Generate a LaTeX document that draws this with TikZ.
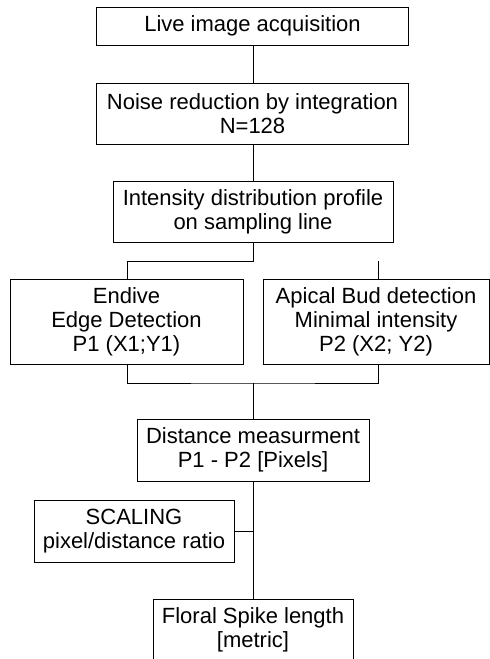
\documentclass[tikz,border=0pt]{standalone}
\usepackage{fontspec}
\setmainfont{Liberation Sans}
\usepackage{tikz}
\usetikzlibrary{positioning}

\begin{document}
\begin{tikzpicture}[
  x=1pt, y=-1pt,
  stage/.style={rectangle, draw, line width=1pt, align=center,
                inner sep=2pt, font=\fontsize{22}{24}\selectfont},
  link/.style={line width=1pt}
]
\useasboundingbox (0,0) rectangle (490,659);
\clip (0,0) rectangle (490,659);
% acquisition chain
\node[stage, minimum width=312pt, minimum height=38pt] (acq) at (252.5,26)
  {Live image acquisition};
\node[stage, minimum width=312pt, minimum height=61pt] (noise) at (252.5,113.5)
  {Noise reduction by integration\\N=128};
\node[stage, minimum width=280pt, minimum height=61pt] (profile) at (253,211.5)
  {Intensity distribution profile\\on sampling line};
% the two detections
\node[stage, minimum width=233pt, minimum height=85pt] (edge) at (126.5,321.5)
  {Endive\\Edge Detection\\P1 (X1;Y1)};
\node[stage, minimum width=226pt, minimum height=85pt] (bud) at (376,321.5)
  {Apical Bud detection\\Minimal intensity\\P2 (X2; Y2)};
% measurement and result
\node[stage, minimum width=232pt, minimum height=62pt] (dist) at (253,450)
  {Distance measurment\\P1 - P2 [Pixels]};
\node[stage, minimum width=200pt, minimum height=62pt] (scale) at (134,531)
  {SCALING\\pixel/distance ratio};
\node[stage, minimum width=200pt, minimum height=62pt] (spike) at (253,630)
  {Floral Spike length\\{[metric]}};
% connectors
\coordinate (split) at (253,261);
\coordinate (budtop) at (378,261);
\coordinate (join) at (253,383);
\coordinate (tap) at (253,531);
\draw[link] (acq.south -| split) -- (noise.north -| split);
\draw[link] (noise.south -| split) -- (profile.north);
\draw[link] (profile.south) -- (split) -| ([xshift=0.5pt]edge.north);
\draw[link] (budtop) -- (budtop |- bud.north);
\draw[link] ([xshift=0.5pt]edge.south) |- (join) -| (budtop |- bud.south);
\draw[link] (join) -- (dist.north);
\draw[link] (dist.south) -- (spike.north);
\draw[link] (scale.east) -- (tap);
\end{tikzpicture}
\end{document}
